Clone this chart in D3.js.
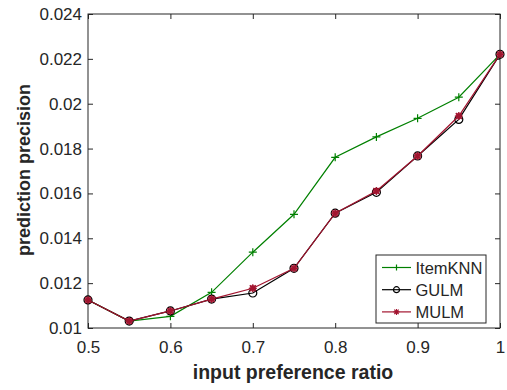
<!DOCTYPE html>
<html>
<head>
<meta charset="utf-8">
<script src="https://cdn.jsdelivr.net/npm/d3@7"></script>
<style>
  body { margin: 0; background: #fff; }
  svg { display: block; font-family: "Liberation Sans", Arial, sans-serif; }
</style>
</head>
<body>
<div id="chart"></div>
<script>
const ratios = [0.5, 0.55, 0.6, 0.65, 0.7, 0.75, 0.8, 0.85, 0.9, 0.95, 1.0];
const itemKNN = [0.01125, 0.01031, 0.01052, 0.01159, 0.01338, 0.01507, 0.01761, 0.01852, 0.01935, 0.02029, 0.02220];
const gulm = [0.01125, 0.01031, 0.01076, 0.01129, 0.01156, 0.01266, 0.01512, 0.01605, 0.01767, 0.01930, 0.02220];
const mulm = [0.01125, 0.01031, 0.01076, 0.01129, 0.01177, 0.01266, 0.01512, 0.01611, 0.01767, 0.01945, 0.02220];
const xTicks = [0.5, 0.6, 0.7, 0.8, 0.9, 1];
const yTicks = [0.01, 0.012, 0.014, 0.016, 0.018, 0.02, 0.022, 0.024];
const seriesNames = ['ItemKNN', 'GULM', 'MULM'];

const W = 507, H = 390;
const margin = { top: 14, right: 7, bottom: 62, left: 88 };
const width = W - margin.left - margin.right;
const height = H - margin.top - margin.bottom;

const svg = d3.select('#chart').append('svg')
  .attr('width', W).attr('height', H);
const g = svg.append('g')
  .attr('transform', `translate(${margin.left},${margin.top})`);

const x = d3.scaleLinear().domain([0.5, 1]).range([0, width]);
const y = d3.scaleLinear().domain([0.01, 0.024]).range([height, 0]);

const axisColor = '#262626';
const fmt = d => String(+d.toFixed(3));

// axes with inward ticks (matlab style)
const styleAxis = sel => {
  sel.select('.domain').remove();
  sel.selectAll('.tick line').attr('stroke', axisColor);
  sel.selectAll('.tick text').attr('fill', axisColor).style('font-size', '17px');
};
g.append('g').attr('transform', `translate(0,${height})`)
  .call(d3.axisBottom(x).tickValues(xTicks).tickFormat(fmt).tickSizeInner(-5).tickPadding(13))
  .call(styleAxis);
g.append('g')
  .call(d3.axisLeft(y).tickValues(yTicks).tickFormat(fmt).tickSizeInner(-5).tickPadding(6))
  .call(styleAxis);
g.append('g')
  .call(d3.axisTop(x).tickValues(xTicks).tickFormat('').tickSizeInner(-5))
  .call(styleAxis);
g.append('g').attr('transform', `translate(${width},0)`)
  .call(d3.axisRight(y).tickValues(yTicks).tickFormat('').tickSizeInner(-5))
  .call(styleAxis);

g.append('rect')
  .attr('width', width).attr('height', height)
  .attr('fill', 'none').attr('stroke', axisColor).attr('stroke-width', 1);

const line = d3.line().x((d, i) => x(ratios[i])).y(d => y(d));

const green = '#008000', black = '#000000', red = '#A2142F';

function plusMarker(sel, color) {
  sel.append('path')
    .attr('d', 'M-4,0H4M0,-4V4')
    .attr('stroke', color).attr('stroke-width', 1.2).attr('fill', 'none');
}
function circleMarker(sel, color) {
  sel.append('circle').attr('r', 4)
    .attr('stroke', color).attr('stroke-width', 1.2).attr('fill', 'none');
}
function starMarker(sel, color) {
  sel.append('path')
    .attr('d', 'M-4,0H4M0,-4V4M-3,-3L3,3M-3,3L3,-3')
    .attr('stroke', color).attr('stroke-width', 1.3).attr('fill', 'none');
  sel.append('circle').attr('r', 3.2).attr('fill', color).attr('fill-opacity', 0.8);
}

const series = [
  { name: seriesNames[0], values: itemKNN, color: green, marker: plusMarker },
  { name: seriesNames[1], values: gulm, color: black, marker: circleMarker },
  { name: seriesNames[2], values: mulm, color: red, marker: starMarker }
];

series.forEach(s => {
  g.append('path').datum(s.values)
    .attr('d', line).attr('fill', 'none')
    .attr('stroke', s.color).attr('stroke-width', 1.2);
  g.selectAll(null).data(s.values).enter().append('g')
    .attr('transform', (d, i) => `translate(${x(ratios[i])},${y(d)})`)
    .each(function () { s.marker(d3.select(this), s.color); });
});

// legend
const lg = svg.append('g').attr('transform', 'translate(376,255)');
lg.append('rect').attr('width', 110).attr('height', 68)
  .attr('fill', '#fff').attr('stroke', axisColor).attr('stroke-width', 1);
series.forEach((s, i) => {
  const row = lg.append('g').attr('transform', `translate(0,${12.5 + i * 22.2})`);
  row.append('line').attr('x1', 6).attr('x2', 35)
    .attr('stroke', s.color).attr('stroke-width', 1.2);
  const m = row.append('g').attr('transform', 'translate(20.5,0)');
  if (i === 0) m.append('path').attr('d', 'M-3,0H3M0,-3V3').attr('stroke', s.color).attr('stroke-width', 1.2);
  if (i === 1) m.append('circle').attr('r', 3).attr('fill', 'none').attr('stroke', s.color).attr('stroke-width', 1.2);
  if (i === 2) m.append('path').attr('d', 'M-3,0H3M0,-3V3M-2.2,-2.2L2.2,2.2M-2.2,2.2L2.2,-2.2').attr('stroke', s.color).attr('stroke-width', 1.2);
  row.append('text').attr('x', 39.5).attr('y', 6)
    .style('font-size', '16.5px').attr('fill', axisColor).text(s.name);
});

// axis labels
svg.append('text')
  .attr('x', 293).attr('y', 379)
  .attr('text-anchor', 'middle')
  .style('font-size', '19.5px').style('font-weight', 'bold').attr('fill', axisColor)
  .text('input preference ratio');
svg.append('text')
  .attr('transform', 'translate(30,170) rotate(-90)')
  .attr('text-anchor', 'middle')
  .style('font-size', '18px').style('font-weight', 'bold').attr('fill', axisColor)
  .text('prediction precision');
</script>
</body>
</html>
